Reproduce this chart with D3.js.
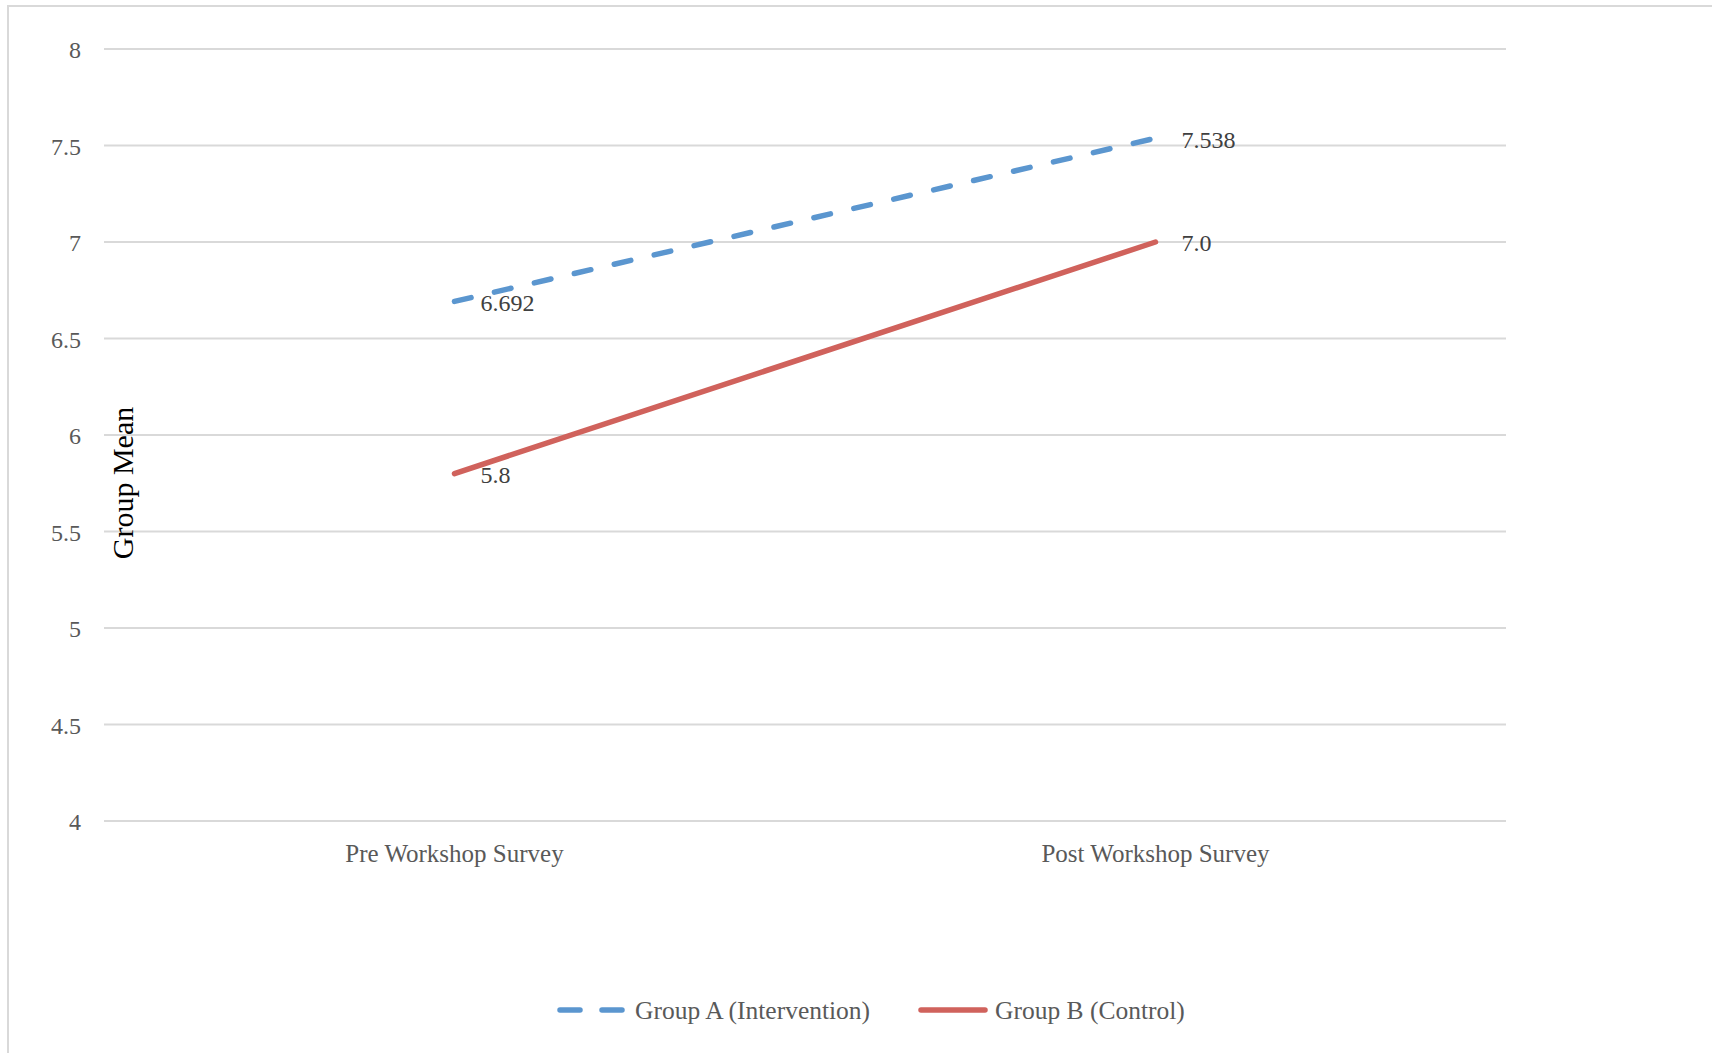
<!DOCTYPE html>
<html lang="en">
<head>
    <meta charset="UTF-8">
    <title>Group Mean</title>
    <style>
        body { margin: 0; background: #fff; }
        .grid line { stroke: #d9d9d9; stroke-width: 2px; }
        .tick-label { font-family: "Liberation Serif", serif; font-size: 24px; fill: #595959; text-anchor: end; }
        .cat-label { font-family: "Liberation Serif", serif; font-size: 25px; fill: #595959; text-anchor: middle; }
        .val-label { font-family: "Liberation Serif", serif; font-size: 24px; fill: #404040; }
        .legend-label { font-family: "Liberation Serif", serif; font-size: 25.5px; fill: #595959; }
        .axis-title { font-family: "Liberation Serif", serif; font-size: 30px; fill: #000; text-anchor: middle; }
    </style>
</head>
<body>
    <script src="https://d3js.org/d3.v7.min.js"></script>
    <script>
        const categories = ["Pre Workshop Survey", "Post Workshop Survey"];
        const groupA = [6.692, 7.538];
        const groupB = [5.8, 7.0];
        const labelsA = ["6.692", "7.538"];
        const labelsB = ["5.8", "7.0"];
        const yTicks = [4, 4.5, 5, 5.5, 6, 6.5, 7, 7.5, 8];

        const series = [
            { name: "Group A (Intervention)", values: groupA, labels: labelsA, color: "#5b96cf", dash: "17,24" },
            { name: "Group B (Control)", values: groupB, labels: labelsB, color: "#d0625c", dash: null }
        ];

        const width = 1712;
        const height = 1053;

        const svg = d3.select("body").append("svg")
            .attr("width", width)
            .attr("height", height);

        // chart border (runs off the right and bottom edges)
        svg.append("rect")
            .attr("x", 8)
            .attr("y", 6)
            .attr("width", width + 20)
            .attr("height", height + 20)
            .attr("fill", "none")
            .attr("stroke", "#d9d9d9")
            .attr("stroke-width", 2);

        const x = d3.scalePoint()
            .domain(categories)
            .range([104, 1506])
            .padding(0.5);

        const y = d3.scaleLinear()
            .domain([4, 8])
            .range([821, 49]);

        // gridlines
        svg.append("g")
            .attr("class", "grid")
            .selectAll("line")
            .data(yTicks)
            .enter().append("line")
            .attr("x1", 104)
            .attr("x2", 1506)
            .attr("y1", d => y(d))
            .attr("y2", d => y(d));

        svg.append("g")
            .selectAll("text")
            .data(yTicks)
            .enter().append("text")
            .attr("class", "tick-label")
            .attr("x", 81)
            .attr("y", d => y(d) + 1)
            .attr("dy", "0.35em")
            .text(d => d);

        svg.append("g")
            .selectAll("text")
            .data(categories)
            .enter().append("text")
            .attr("class", "cat-label")
            .attr("x", d => x(d))
            .attr("y", 853)
            .attr("dy", "0.35em")
            .text(d => d);

        svg.append("text")
            .attr("class", "axis-title")
            .attr("transform", "translate(122,483) rotate(-90)")
            .attr("dy", "0.35em")
            .text("Group Mean");

        const line = d3.line()
            .x((d, i) => x(categories[i]))
            .y(d => y(d));

        series.forEach(s => {
            svg.append("path")
                .datum(s.values)
                .attr("d", line)
                .attr("fill", "none")
                .attr("stroke", s.color)
                .attr("stroke-width", 5.5)
                .attr("stroke-linecap", "round")
                .attr("stroke-dasharray", s.dash);

            svg.append("g")
                .selectAll("text")
                .data(s.values)
                .enter().append("text")
                .attr("class", "val-label")
                .attr("x", (d, i) => x(categories[i]) + 26)
                .attr("y", d => y(d) + 1)
                .attr("dy", "0.35em")
                .text((d, i) => s.labels[i]);
        });

        // legend
        const legendX = [560, 921];
        const legend = svg.append("g")
            .selectAll("g")
            .data(series)
            .enter().append("g")
            .attr("transform", (d, i) => `translate(${legendX[i]},1010)`);

        legend.append("line")
            .attr("x1", 0)
            .attr("x2", 64)
            .attr("stroke", d => d.color)
            .attr("stroke-width", 5.5)
            .attr("stroke-linecap", "round")
            .attr("stroke-dasharray", d => d.dash ? "20,22" : null);

        legend.append("text")
            .attr("class", "legend-label")
            .attr("x", (d, i) => i === 0 ? 75 : 74)
            .attr("dy", "0.35em")
            .text(d => d.name);
    </script>
</body>
</html>
